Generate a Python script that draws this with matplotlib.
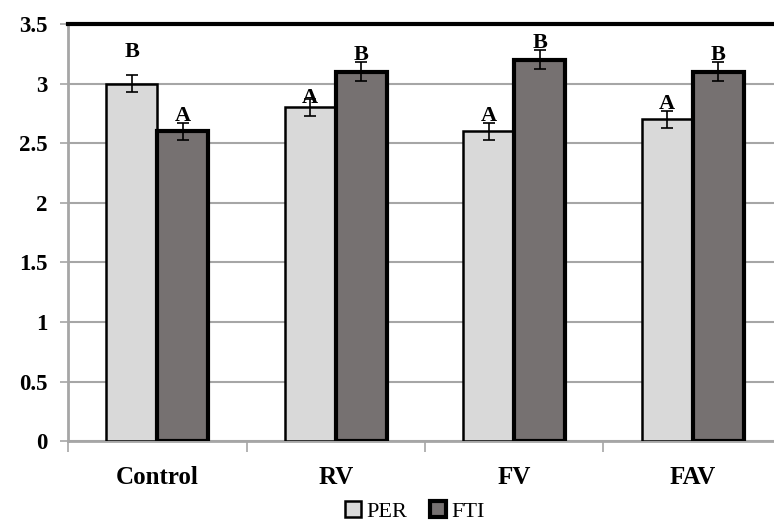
import matplotlib.pyplot as plt
import numpy as np

categories = ["Control", "RV", "FV", "FAV"]
per = [3.0, 2.8, 2.6, 2.7]
fti = [2.6, 3.1, 3.2, 3.1]
per_err = [0.07, 0.07, 0.07, 0.07]
fti_err = [0.07, 0.08, 0.08, 0.08]
per_letters = ["B", "A", "A", "A"]
fti_letters = ["A", "B", "B", "B"]
# extra lift of each letter above its error cap
per_lift = [0.15, -0.03, 0.015, 0.015]
fti_lift = [0.015, 0.015, 0.015, 0.015]

plt.rcParams['font.family'] = ['Liberation Serif', 'DejaVu Serif']

fig = plt.figure(figsize=(7.74, 5.22), dpi=100)
ax = fig.add_axes([0.0879, 0.155, 0.9224, 0.799])

x = np.arange(len(categories)) + 0.5
w = 0.285
gray = "#a6a6a6"

ax.bar(x - w / 2, per, w, color="#d9d9d9", edgecolor="black", linewidth=1.8,
       label="PER", zorder=3)
ax.bar(x + w / 2, fti, w, color="#767171", edgecolor="black", linewidth=3,
       label="FTI", zorder=3)
ax.errorbar(x - w / 2, per, yerr=per_err, fmt="none", ecolor="black",
            elinewidth=1.2, capsize=4.5, capthick=1.2, zorder=4)
ax.errorbar(x + w / 2, fti, yerr=fti_err, fmt="none", ecolor="black",
            elinewidth=1.2, capsize=4.5, capthick=1.2, zorder=4)

# significance letters
for i in range(len(categories)):
    ax.text(x[i] - w / 2, per[i] + per_err[i] + per_lift[i], per_letters[i],
            ha="center", va="baseline", fontsize=16, fontweight="bold", zorder=5)
    ax.text(x[i] + w / 2, fti[i] + fti_err[i] + fti_lift[i], fti_letters[i],
            ha="center", va="baseline", fontsize=16, fontweight="bold", zorder=5)

ax.set_xlim(0, 4)
ax.set_ylim(0, 3.5)
ax.set_yticks(np.arange(0, 3.51, 0.5))
ax.set_yticklabels(["0", "0.5", "1", "1.5", "2", "2.5", "3", "3.5"])
ax.set_xticks([0, 1, 2, 3, 4])
ax.set_xticklabels([])
ax.set_xticks(x, minor=True)
ax.set_xticklabels(categories, minor=True)
ax.tick_params(axis="x", which="major", length=8, color=gray, width=1.2)
ax.tick_params(axis="x", which="minor", length=0, pad=18, labelsize=18)
ax.tick_params(axis="y", length=6, color=gray, width=1.2, labelsize=16.5, pad=9)
for lab in ax.get_xticklabels(minor=True) + ax.get_yticklabels():
    lab.set_fontweight("bold")

ax.yaxis.grid(True, color=gray, linewidth=1.5, zorder=0)
ax.set_axisbelow(True)
ax.spines["left"].set_color(gray)
ax.spines["left"].set_linewidth(2)
ax.spines["bottom"].set_color(gray)
ax.spines["bottom"].set_linewidth(2)
ax.spines["top"].set_color("black")
ax.spines["top"].set_linewidth(3)
ax.spines["right"].set_visible(False)

ax.legend(loc="center", bbox_to_anchor=(0.486, -0.168), ncol=2, frameon=False,
          fontsize=16, handlelength=0.72, handleheight=0.72, handletextpad=0.25,
          columnspacing=1.0, borderpad=0, borderaxespad=0)

fig.savefig("out.png", dpi=100)
